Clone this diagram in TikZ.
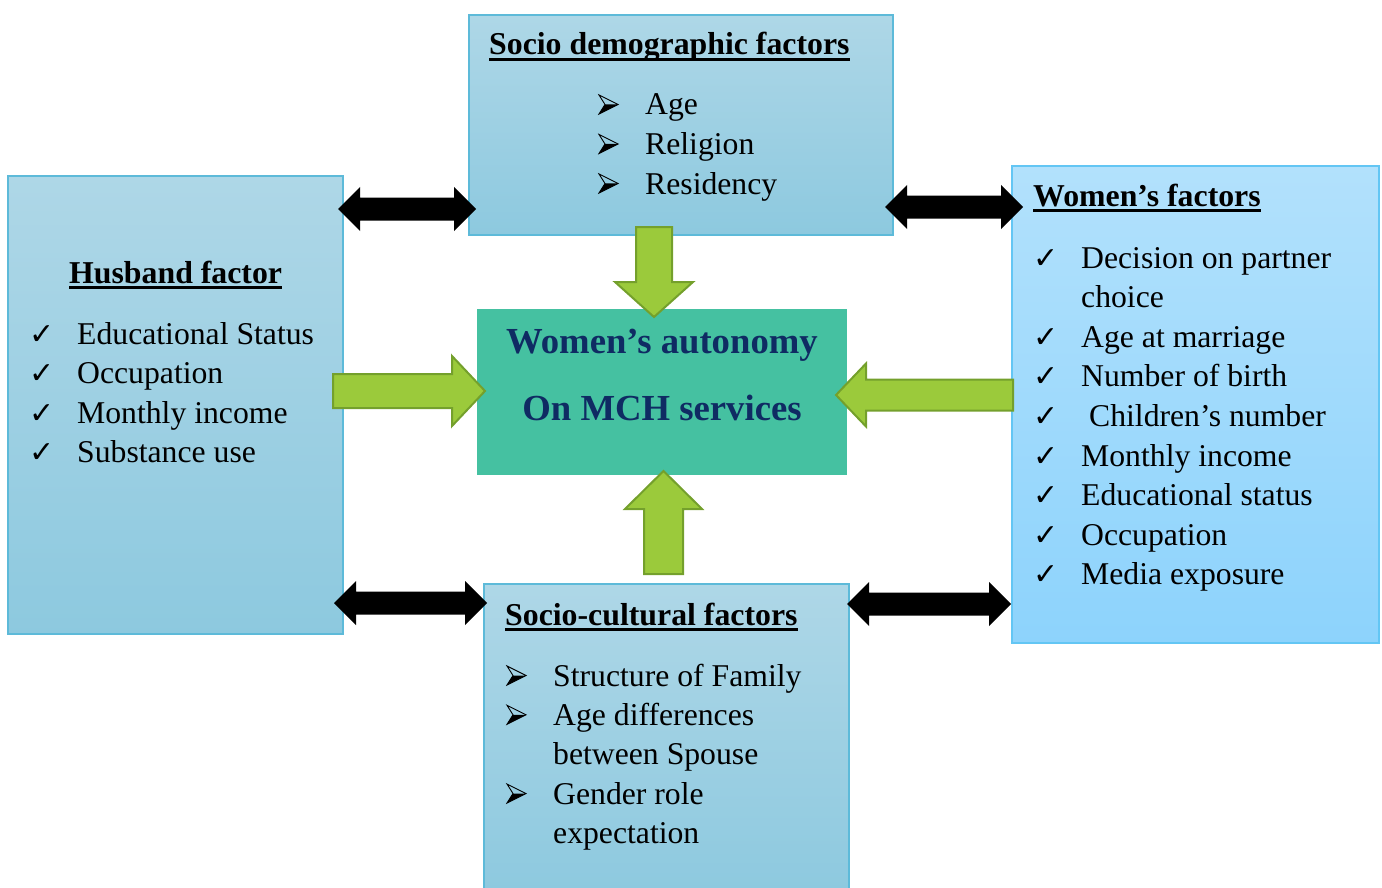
\documentclass[tikz,border=0pt]{standalone}
\usepackage{fontspec}
\setmainfont{Liberation Serif}
\newfontfamily\symfont{DejaVu Sans}
\usetikzlibrary{calc}
\definecolor{boxtop}{HTML}{AED7E7}
\definecolor{boxbot}{HTML}{8DC9DF}
\definecolor{boxline}{HTML}{5DBAD9}
\definecolor{womtop}{HTML}{B2E1FC}
\definecolor{wombot}{HTML}{8DD3FC}
\definecolor{womline}{HTML}{63C6F4}
\definecolor{centrefill}{HTML}{45C1A1}
\definecolor{titleblue}{HTML}{0F2B63}
\definecolor{leaf}{HTML}{9BCA3B}
\definecolor{leafline}{HTML}{74A02C}
\tikzstyle{factor} = [draw=boxline, line width=1.5pt, rectangle, anchor=north west, top color=boxtop, bottom color=boxbot, inner sep=0pt, outer sep=0pt]
\tikzstyle{women} = [factor, draw=womline, top color=womtop, bottom color=wombot]
\tikzstyle{centre} = [rectangle, fill=centrefill, anchor=north west, inner sep=0pt, outer sep=0pt]
\tikzstyle{head} = [anchor=base west, inner sep=0pt, font=\fontsize{31.8}{38}\selectfont\bfseries]
\tikzstyle{item} = [anchor=base west, inner sep=0pt, font=\fontsize{31.7}{39.6}\selectfont]
\tikzstyle{tickmark} = [anchor=base west, inner sep=0pt, font=\symfont\fontsize{30}{36}\selectfont]
\tikzstyle{focus} = [anchor=base, inner sep=0pt, text=titleblue, font=\fontsize{36.7}{44}\selectfont\bfseries]
\tikzstyle{uline} = [draw, line width=2.2pt]
\tikzstyle{greenarrow} = [fill=leaf, draw=leafline, line width=2pt, line join=miter]
% arrowhead bullet, drawn from the baseline
\tikzset{bulletarrow/.pic={
    \fill (6,-10.5) -- (19,-10.5) -- (0,-1) -- cycle;
    \draw[line width=0.9pt, line join=miter] (0,-20) -- (19,-10.5) -- (0,-1) -- (6,-10.5) -- cycle;}}
% block arrows: ends, then shaft half width, head half width, head length
\newcommand{\fatarrow}[5]{%
  \path ($(#2)!#5pt!(#1)$) coordinate (hb);
  \draw[greenarrow] ($(#1)!#3pt!90:(#2)$) -- ($(hb)!#3pt!90:(#2)$) -- ($(hb)!#4pt!90:(#2)$) -- (#2)
    -- ($(hb)!#4pt!-90:(#2)$) -- ($(hb)!#3pt!-90:(#2)$) -- ($(#1)!#3pt!-90:(#2)$) -- cycle;}
\newcommand{\dblarrow}[2]{%
  \path ($(#1)!22pt!(#2)$) coordinate (ha) ($(#2)!22pt!(#1)$) coordinate (hb);
  \fill[black] (#1) -- ($(ha)!22pt!90:(#2)$) -- ($(ha)!11.5pt!90:(#2)$) -- ($(hb)!11.5pt!-90:(#1)$)
    -- ($(hb)!22pt!-90:(#1)$) -- (#2) -- ($(hb)!22pt!90:(#1)$) -- ($(hb)!11.5pt!90:(#1)$)
    -- ($(ha)!11.5pt!-90:(#2)$) -- ($(ha)!22pt!-90:(#2)$) -- cycle;}

\begin{document}
\begin{tikzpicture}[x=1pt, y=-1pt]
    \useasboundingbox (0,0) rectangle (1382,888);
    \node[factor, minimum width=424pt, minimum height=220pt] (socdem) at (469,15) {};
    \node[factor, minimum width=335pt, minimum height=458pt] (husband) at (8,176) {};
    \node[women, minimum width=367pt, minimum height=477pt] (women) at (1012,166) {};
    \node[factor, minimum width=365pt, minimum height=312pt] (sociocult) at (484,584) {};
    \node[centre, minimum width=370pt, minimum height=166pt] (autonomy) at (477,309) {};

    \coordinate (b1a) at ($(husband.north east)+(-5,33)$);
    \coordinate (b1b) at ($(socdem.south west)+(7,-26)$);
    \coordinate (b2a) at ($(socdem.south east)+(-8,-28)$);
    \coordinate (b2b) at ($(women.north west)+(11,41)$);
    \coordinate (b3a) at ($(husband.south east)+(-9,-31)$);
    \coordinate (b3b) at ($(sociocult.north west)+(3,19)$);
    \coordinate (b4a) at ($(sociocult.north east)+(-2,20)$);
    \coordinate (b4b) at ($(women.south west)+(-1,-39)$);
    \dblarrow{b1a}{b1b}
    \dblarrow{b2a}{b2b}
    \dblarrow{b3a}{b3b}
    \dblarrow{b4a}{b4b}

    \coordinate (g1a) at ($(socdem.south)+(-27,-8)$);
    \coordinate (g1b) at ($(autonomy.north)+(-8,8)$);
    \coordinate (g2a) at ($(sociocult.north)+(-3,-10)$);
    \coordinate (g2b) at ($(autonomy.south)+(1.5,-4)$);
    \coordinate (g3a) at ($(husband.east)+(-10,-14)$);
    \coordinate (g3b) at ($(autonomy.west)+(8,-1)$);
    \coordinate (g4a) at ($(women.west)+(1,-9.5)$);
    \coordinate (g4b) at ($(autonomy.east)+(-11,3)$);
    \fatarrow{g1a}{g1b}{18}{39}{35}
    \fatarrow{g2a}{g2b}{19.5}{38.5}{38}
    \fatarrow{g3a}{g3b}{17}{35}{33}
    \fatarrow{g4a}{g4b}{15.5}{31.5}{30}

    \node[focus] (aut1) at (662,353) {Women’s autonomy};
    \node[focus] (aut2) at (662,420) {On MCH services};

    \node[head] (sdhead) at (489,55) {Socio demographic factors};
    \node[head] (hbhead) at (69,283) {Husband factor};
    \node[head] (wfhead) at (1033,206) {Women’s factors};
    \node[head] (schead) at (505,625) {Socio-cultural factors};
    \foreach \h in {sdhead,hbhead,wfhead,schead}
        \draw[uline] ($(\h.base west)+(0,4.5)$) -- ($(\h.base east)+(0,4.5)$);

    \foreach \y/\txt [count=\i] in {115/Age, 154.5/Religion, 194/Residency} {
        \path (599,\y) pic {bulletarrow};
        \node[item] (sd\i) at (645,\y) {\txt};
    }
    \foreach \y/\txt [count=\i] in {344/Educational Status, 383.5/Occupation, 423/Monthly income, 462.5/Substance use} {
        \node[tickmark] (hbb\i) at (29,\y) {✓};
        \node[item] (hb\i) at (77,\y) {\txt};
    }
    \foreach \y/\txt [count=\i] in {268/Decision on partner, 347.2/Age at marriage, 386.8/Number of birth,
            426.4/\ Children’s number, 466/Monthly income, 505.6/Educational status, 545.2/Occupation, 584.8/Media exposure} {
        \node[tickmark] (wfb\i) at (1033,\y) {✓};
        \node[item] (wf\i) at (1081,\y) {\txt};
    }
    \node[item] (wf1b) at (1081,307.6) {choice};
    \foreach \y/\txt [count=\i] in {686/Structure of Family, 725.3/Age differences, 804/Gender role} {
        \path (507,\y) pic {bulletarrow};
        \node[item] (sc\i) at (553,\y) {\txt};
    }
    \node[item] (sc2b) at (553,764.6) {between Spouse};
    \node[item] (sc3b) at (553,843.2) {expectation};
\end{tikzpicture}
\end{document}
